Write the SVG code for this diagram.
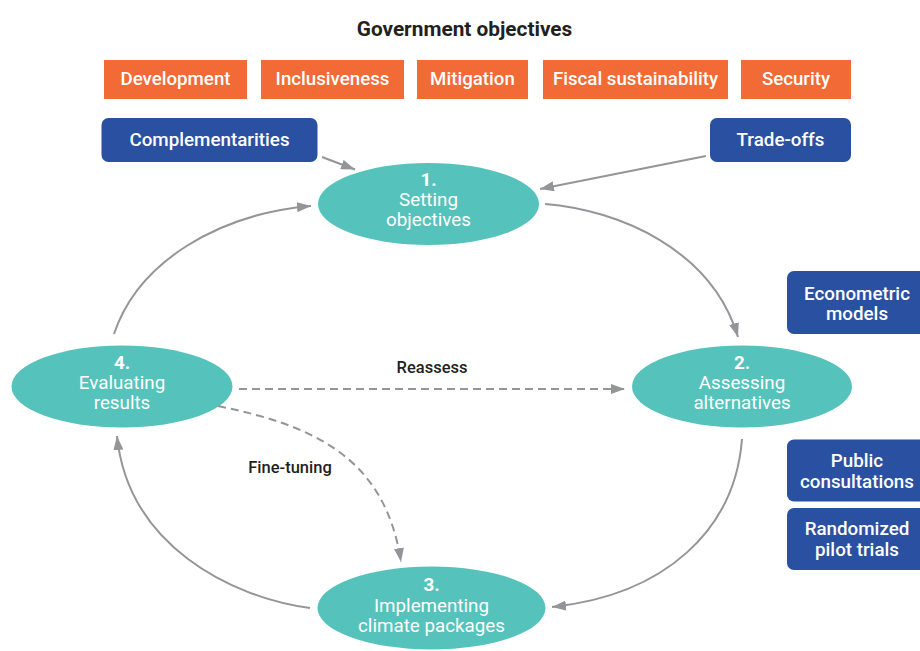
<svg xmlns="http://www.w3.org/2000/svg" width="920" height="651" viewBox="0 0 920 651">
<defs>
<style>
.t{font-family:Roboto,"Liberation Sans",sans-serif;}
.obj rect{fill:#F26A36;}
.obj text{fill:#fff;font-size:18.7px;font-weight:500;text-anchor:middle;}
.blue rect{fill:#2A50A1;}
.blue text{fill:#fff;font-size:18.8px;font-weight:500;text-anchor:middle;}
.step ellipse{fill:#55C3BC;}
.step text{fill:#fff;font-size:18.8px;font-weight:400;text-anchor:middle;}
.step .n{font-weight:700;}
.c{fill:none;stroke:#939598;stroke-width:2;}
.d{stroke-dasharray:8 5;}
.lbl{fill:#231F20;font-size:16.5px;font-weight:500;text-anchor:middle;}
</style>
<marker id="ah" viewBox="0 0 14 10" refX="14" refY="5" markerWidth="14" markerHeight="10" markerUnits="userSpaceOnUse" orient="auto">
<path d="M0,0 L14,5 L0,10 Z" fill="#939598"/>
</marker>
</defs>
<rect width="920" height="651" fill="#fff"/>
<text class="t" x="464.5" y="36" font-size="20.8" font-weight="700" fill="#231F20" text-anchor="middle">Government objectives</text>

<g id="obj-development" class="obj t"><rect x="104" y="60" width="143" height="39"/><text x="175.5" y="85">Development</text></g>
<g id="obj-inclusiveness" class="obj t"><rect x="261" y="60" width="143" height="39"/><text x="332.5" y="85">Inclusiveness</text></g>
<g id="obj-mitigation" class="obj t"><rect x="417" y="60" width="111" height="39"/><text x="472.5" y="85">Mitigation</text></g>
<g id="obj-fiscal" class="obj t"><rect x="543" y="60" width="185" height="39"/><text x="635.5" y="85">Fiscal sustainability</text></g>
<g id="obj-security" class="obj t"><rect x="741" y="60" width="110" height="39"/><text x="796" y="85">Security</text></g>

<g id="complementarities" class="blue t"><rect x="101.5" y="118" width="216" height="44" rx="7"/><text x="209.5" y="146">Complementarities</text></g>
<g id="tradeoffs" class="blue t"><rect x="710" y="118" width="141" height="44" rx="7"/><text x="780.5" y="146">Trade-offs</text></g>
<g id="econometric" class="blue t"><rect x="787" y="271" width="150" height="63" rx="7"/><text x="857" y="300">Econometric</text><text x="857" y="320">models</text></g>
<g id="public" class="blue t"><rect x="787" y="439.5" width="150" height="62" rx="7"/><text x="857" y="467">Public</text><text x="857" y="488">consultations</text></g>
<g id="randomized" class="blue t"><rect x="787" y="508" width="150" height="62" rx="7"/><text x="857" y="535">Randomized</text><text x="857" y="556">pilot trials</text></g>

<g id="step1" class="step t"><ellipse cx="428.5" cy="204" rx="110.5" ry="41"/><text class="n" x="428.5" y="186">1.</text><text x="428.5" y="206">Setting</text><text x="428.5" y="226">objectives</text></g>
<g id="step2" class="step t"><ellipse cx="742" cy="386.5" rx="110" ry="41"/><text class="n" x="742" y="368.5">2.</text><text x="742" y="389">Assessing</text><text x="742" y="409">alternatives</text></g>
<g id="step3" class="step t"><ellipse cx="431.5" cy="608" rx="114" ry="41.5"/><text class="n" x="431.5" y="591">3.</text><text x="431.5" y="612">Implementing</text><text x="431.5" y="632">climate packages</text></g>
<g id="step4" class="step t"><ellipse cx="122" cy="386.5" rx="110.5" ry="41"/><text class="n" x="122" y="368.5">4.</text><text x="122" y="389">Evaluating</text><text x="122" y="409">results</text></g>

<g id="connectors">
<path class="c" d="M322,157 L355,169.5" marker-end="url(#ah)"/>
<path class="c" d="M706,156 L540,189" marker-end="url(#ah)"/>
<path class="c" d="M545,204 C620,210 712,250 738,337" marker-end="url(#ah)"/>
<path class="c" d="M742,439 C735,530 665,595 552,607" marker-end="url(#ah)"/>
<path class="c" d="M310,608 C230,597 128,545 117,436" marker-end="url(#ah)"/>
<path class="c" d="M114,334 C138,262 218,214 311,206" marker-end="url(#ah)"/>
<path class="c d" d="M239,389 L625,389" marker-end="url(#ah)"/>
<path class="c d" d="M218,406 C310,425 385,455 401,562" marker-end="url(#ah)"/>
<text class="t lbl" x="432" y="373">Reassess</text>
<text class="t lbl" x="290" y="473">Fine-tuning</text>
</g>
</svg>
